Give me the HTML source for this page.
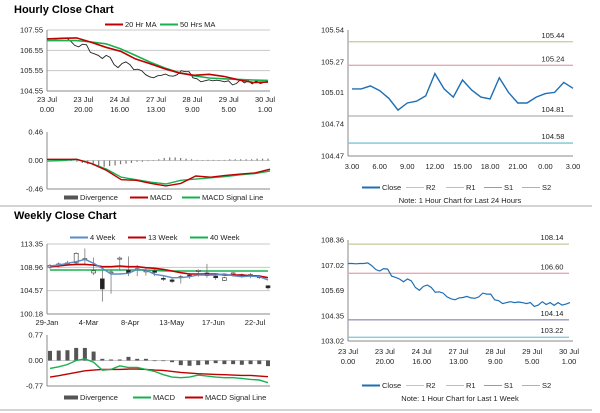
<!DOCTYPE html>
<html><head><meta charset="utf-8"><style>
body{margin:0;background:#fff;}
svg{display:block;font-family:"Liberation Sans",Arial,sans-serif;}
text{fill:#222;font-size:7.5px;}
.t{font-size:11px;font-weight:bold;fill:#000;}
</style></head><body>
<svg id="s" width="600" height="413" viewBox="0 0 600 413" xmlns="http://www.w3.org/2000/svg">
<text class="t" x="14" y="13">Hourly Close Chart</text>
<text class="t" x="14" y="219">Weekly Close Chart</text>
<line x1="0" y1="206" x2="592" y2="206" stroke="#aaa" stroke-width="1"/>
<line x1="0" y1="410" x2="592" y2="410" stroke="#aaa" stroke-width="1"/>
</svg>
<script>
// ---- data ----
const hourlyClose=[107.12,107.12,107.1,107.12,107.12,107.15,107.0,106.8,106.72,106.85,106.82,106.45,106.38,106.3,106.15,106.3,106.2,105.85,105.7,105.9,105.98,105.85,105.6,105.62,105.55,105.35,105.25,105.2,105.3,105.32,105.38,105.3,105.28,105.35,105.55,105.5,105.5,105.2,105.15,105.0,105.05,105.1,105.05,105.08,105.05,105.0,105.05,104.85,104.92,105.1,104.95,105.05,104.9,105.05,104.92,104.97,105.05];
const ma20=[107.11,107.14,107.16,106.95,106.7,106.5,106.13,105.89,105.64,105.43,105.32,105.37,105.27,105.1,104.97,104.99];
const ma50=[107.03,107.03,107.03,106.96,106.87,106.62,106.3,105.97,105.68,105.45,105.3,105.19,105.15,105.12,105.09,105.07];
const hMacd=[0.02,0.02,0.02,-0.05,-0.16,-0.31,-0.32,-0.37,-0.41,-0.37,-0.25,-0.27,-0.24,-0.22,-0.2,-0.14];
const hSignal=[-0.01,0.0,0.02,-0.05,-0.14,-0.27,-0.31,-0.35,-0.38,-0.32,-0.3,-0.28,-0.26,-0.23,-0.21,-0.17];
const hDiv=[0.01,0.01,0.0,0.0,-0.02,-0.04,-0.06,-0.08,-0.1,-0.1,-0.09,-0.08,-0.06,-0.05,-0.04,-0.02,-0.02,-0.01,0.0,0.02,0.04,0.05,0.05,0.04,0.03,0.02,0.01,0.0,0.01,0.01,0.0,0.01,0.02,0.02,0.02,0.02,0.02,0.03,0.03,0.03];
const hourTicks=["23 Jul|0.00","23 Jul|20.00","24 Jul|16.00","27 Jul|13.00","28 Jul|9.00","29 Jul|5.00","30 Jul|1.00"];
const dayClose=[105.04,105.04,105.065,105.025,104.96,104.86,104.92,104.935,104.98,105.17,105.04,104.97,105.115,105.03,104.97,104.955,105.135,105.01,104.92,104.92,104.97,105.0,105.01,105.095,105.045];
const dayTicks=["3.00","6.00","9.00","12.00","15.00","18.00","21.00","0.00","3.00"];
const dayLevels=[105.44,105.24,104.81,104.58];
const weekLevels=[108.14,106.60,104.14,103.22];
const wOpen=[109.0,109.3,109.6,109.8,110.5,107.9,106.8,108.0,110.5,108.4,108.5,108.1,108.3,106.9,106.6,107.1,107.5,108.2,107.9,107.3,106.5,107.7,107.5,107.5,107.0,105.5];
const wClose=[109.3,109.6,109.8,111.6,110.6,108.3,104.9,108.1,110.7,107.9,108.7,108.3,108.0,106.7,106.3,107.2,107.4,108.4,107.4,107.0,107.0,107.9,107.6,107.6,107.2,105.1];
const wHigh=[109.6,109.9,110.2,111.8,112.5,110.8,108.4,108.5,111.0,111.0,109.4,108.8,108.7,107.3,107.0,107.5,107.9,108.6,109.6,107.6,107.2,108.1,107.8,107.9,107.4,105.6];
const wLow=[108.6,108.9,109.3,109.6,109.5,107.5,102.5,104.0,108.5,107.3,107.3,107.4,107.3,106.4,106.0,105.9,106.8,107.2,107.0,106.6,106.4,107.2,107.0,106.9,106.8,104.8];
const wk4=[109.21,109.4,109.71,110.02,110.46,109.71,108.77,107.7,107.7,107.83,108.58,108.45,107.64,107.39,107.01,107.01,107.2,107.51,107.51,107.51,107.7,107.39,107.2,107.32,107.2,106.57];
const wk13=[109.08,109.21,109.4,109.52,109.52,109.4,109.08,109.08,109.21,109.08,109.08,108.89,108.77,108.58,108.27,107.95,107.7,107.7,107.7,107.7,107.51,107.51,107.51,107.39,107.32,107.01];
const wk40=[108.45,108.45,108.45,108.45,108.45,108.45,108.45,108.45,108.45,108.45,108.45,108.42,108.38,108.3,108.27,108.27,108.27,108.27,108.27,108.27,108.27,108.27,108.27,108.27,108.27,108.27];
const wDiv=[0.29,0.30,0.31,0.38,0.38,0.27,0.05,0.03,0.03,0.11,0.05,0.05,0.0,-0.01,-0.05,-0.14,-0.16,-0.14,-0.12,-0.08,-0.11,-0.11,-0.13,-0.11,-0.11,-0.17];
const wMacd=[-0.24,-0.19,-0.12,0,0.05,-0.05,-0.29,-0.27,-0.16,-0.21,-0.21,-0.27,-0.33,-0.43,-0.5,-0.52,-0.5,-0.44,-0.47,-0.5,-0.52,-0.52,-0.54,-0.57,-0.59,-0.67];
const wSignal=[-0.5,-0.46,-0.41,-0.36,-0.31,-0.29,-0.27,-0.27,-0.27,-0.26,-0.26,-0.27,-0.29,-0.3,-0.33,-0.36,-0.38,-0.4,-0.41,-0.42,-0.43,-0.44,-0.45,-0.45,-0.47,-0.49];
const weekTicks=["29-Jan","4-Mar","8-Apr","13-May","17-Jun","22-Jul"];

// ---- helpers ----
const S=document.getElementById('s');const NS='http://www.w3.org/2000/svg';
function el(tag,at,txt){const e=document.createElementNS(NS,tag);for(const k in at)e.setAttribute(k,at[k]);if(txt!==undefined)e.textContent=txt;S.appendChild(e);return e;}
function lin(d0,d1,r0,r1){return v=>r0+(v-d0)/(d1-d0)*(r1-r0);}
function poly(arr,x,y,col,w,name){const pts=arr.map((v,i)=>x(i).toFixed(1)+','+y(v).toFixed(1)).join(' ');const e=el('polyline',{points:pts,fill:'none',stroke:col,'stroke-width':w});

return e;}
function yAxis(ticks,y,x0,x1,grid,name){ticks.forEach(t=>{const e=el('text',{x:x0-4,y:y(t)+2.5,'text-anchor':'end'},t.toFixed(2));


if(grid){const g=el('line',{x1:x0,x2:x1,y1:y(t),y2:y(t),stroke:'#c8c8c8','stroke-width':1});

}});
const a=el('line',{x1:x0,x2:x0,y1:y(ticks[0]),y2:y(ticks[ticks.length-1]),stroke:'#888'});

}
function xAxisLine(x0,x1,yy,name){const a=el('line',{x1:x0,x2:x1,y1:yy,y2:yy,stroke:'#888'});

}
function xLabels(labels,xs,yy,name){labels.forEach((l,i)=>{const p=l.split('|');p.forEach((s,j)=>{const e=el('text',{x:xs(i),y:yy+j*10,'text-anchor':'middle'},s);

});});}
function legend(items,yy,name){items.forEach(it=>{const l=el('line',{x1:it[0],x2:it[0]+(it[3]||18),y1:yy-2.5,y2:yy-2.5,stroke:it[2],'stroke-width':it[4]||2});


const t=el('text',{x:it[0]+(it[3]||18)+2,y:yy},it[1]);

});}
const RED='#c00000',GRN='#19b050',BLU='#1f6fb4';

// ---- Panel 1: hourly ----
(function(){const x0=47,x1=270;const y=lin(104.55,107.55,91,30);
yAxis([107.55,106.55,105.55,104.55],y,x0,x1,true,'hourly-y');xAxisLine(x0,x1,91,'hourly-x-axis');
const xc=i=>x0+i*(x1-2-x0)/(hourlyClose.length-1);
poly(hourlyClose,xc,y,'#222',0.9,'hourly-close-line');
const xm=i=>x0+i*(x1-2-x0)/(ma20.length-1);
poly(ma50,xm,y,GRN,1.6,'ma50-line');poly(ma20,xm,y,RED,1.6,'ma20-line');
xLabels(hourTicks,i=>x0+i*(265-x0)/(hourTicks.length-1),102,'hourly-x-tick');
legend([[105,'20 Hr MA',RED],[160,'50 Hrs MA',GRN]],27,'hourly-legend');
// MACD
const ym=lin(-0.46,0.46,189,132);
yAxis([0.46,0,-0.46],ym,x0,x1,false,'hourly-macd-y');
const z=el('line',{x1:x0,x2:x1,y1:ym(0),y2:ym(0),stroke:'#c8c8c8'});


xAxisLine(x0,x1,189,'hourly-macd-x-axis');
const xd=i=>x0+8+i*(x1-10-x0)/(hDiv.length-1);
hDiv.forEach((v,i)=>{const r=el('rect',{x:xd(i)-0.6,y:Math.min(ym(v),ym(0)),width:1.2,height:Math.max(0.5,Math.abs(ym(v)-ym(0))),fill:'#777'});

});
const xmm=i=>x0+i*(x1-x0)/(hMacd.length-1);
poly(hSignal,xmm,ym,GRN,1.4,'hourly-macd-signal-line');poly(hMacd,xmm,ym,RED,1.4,'hourly-macd-line');
legend([[64,'Divergence','#555',14,4],[130,'MACD',RED],[182,'MACD Signal Line',GRN]],200,'hourly-macd-legend');})();

// ---- Panel 2: last 24 hours ----
(function(){const x0=348,x1=573;const y=lin(104.47,105.54,156,30);
yAxis([105.54,105.27,105.01,104.74,104.47],y,x0,x1,false,'day-y');xAxisLine(x0,x1,156,'day-x-axis');
const cols=['#c9c99b','#e8a8b0','#b0b0b0','#7ec4d6'];
dayLevels.forEach((v,i)=>{const l=el('line',{x1:x0,x2:x1,y1:y(v),y2:y(v),stroke:cols[i],'stroke-width':1.3});


const t=el('text',{x:553,y:y(v)-4,'text-anchor':'middle'},v.toFixed(2));

});
const xc=i=>x0+4+i*(x1-4-x0)/(dayClose.length-1);
poly(dayClose,xc,y,BLU,1.4,'day-close-line');
xLabels(dayTicks,i=>x0+4+i*(x1-4-x0)/(dayTicks.length-1),169,'day-x-tick');
legend([[362,'Close',BLU],[406,'R2',cols[0],18,1],[446,'R1',cols[1],18,1],[484,'S1','#9a98b8',18,1],[522,'S2',cols[3],18,1]],190,'day-legend');
const n=el('text',{x:460,y:203,'text-anchor':'middle','font-size':'6.5'},'Note: 1 Hour Chart for Last 24 Hours');

})();

// ---- Panel 3: weekly ----
(function(){const x0=47,x1=270;const y=lin(100.18,113.35,314,244);
yAxis([113.35,108.96,104.57,100.18],y,x0,x1,true,'weekly-y');xAxisLine(x0,x1,314,'weekly-x-axis');
const xw=i=>x0+3+i*(268-x0-3)/(wClose.length-1);
const w4=el('line',{});S.removeChild(w4);
poly(wk40,xw,y,GRN,1.6,'wk40-line');
wClose.forEach((c,i)=>{const o=wOpen[i];const w=el('line',{x1:xw(i),x2:xw(i),y1:y(wHigh[i]),y2:y(wLow[i]),stroke:'#666','stroke-width':0.7});


const up=c>=o;const r=el('rect',{x:xw(i)-2,y:y(Math.max(o,c)),width:4,height:Math.max(1,Math.abs(y(o)-y(c))),fill:up?'#fff':'#222',stroke:'#333','stroke-width':0.6});

});
poly(wk13,xw,y,RED,1.6,'wk13-line');poly(wk4,xw,y,'#5b8bc8',1.4,'wk4-line');
xLabels(weekTicks,i=>x0+i*(255-x0)/(weekTicks.length-1),325,'weekly-x-tick');
legend([[70,'4 Week','#5b8bc8'],[128,'13 Week',RED],[190,'40 Week',GRN]],240,'weekly-legend');
const ym=lin(-0.77,0.77,386,335);
yAxis([0.77,0,-0.77],ym,x0,x1,false,'weekly-macd-y');
xAxisLine(x0,x1,386,'weekly-macd-x-axis');
const z=el('line',{x1:x0,x2:x1,y1:ym(0),y2:ym(0),stroke:'#c8c8c8'});


wDiv.forEach((v,i)=>{const r=el('rect',{x:xw(i)-2,y:Math.min(ym(v),ym(0)),width:4,height:Math.max(0.6,Math.abs(ym(v)-ym(0))),fill:'#555'});

});
poly(wSignal,xw,ym,RED,1.4,'weekly-macd-signal-line');poly(wMacd,xw,ym,GRN,1.4,'weekly-macd-line');
legend([[64,'Divergence','#555',14,4],[133,'MACD',GRN],[185,'MACD Signal Line',RED]],400,'weekly-macd-legend');})();

// ---- Panel 4: last week hourly ----
(function(){const x0=348,x1=573;const y=lin(103.02,108.36,341,240);
yAxis([108.36,107.02,105.69,104.35,103.02],y,x0,x1,false,'week-y');xAxisLine(x0,x1,341,'week-x-axis');
const cols=['#c9c99b','#e8a8b0','#9a98b8','#7ec4d6'];
weekLevels.forEach((v,i)=>{const l=el('line',{x1:x0,x2:x1-4,y1:y(v),y2:y(v),stroke:cols[i],'stroke-width':1.3});


const t=el('text',{x:552,y:y(v)-4,'text-anchor':'middle'},v.toFixed(2));

});
const xc=i=>x0+i*(570-x0)/(hourlyClose.length-1);
poly(hourlyClose,xc,y,BLU,1.2,'week-close-line');
xLabels(hourTicks,i=>x0+i*(569-x0)/(hourTicks.length-1),354,'week-x-tick');
legend([[362,'Close',BLU],[406,'R2',cols[0],18,1],[446,'R1',cols[1],18,1],[484,'S1',cols[2],18,1],[522,'S2',cols[3],18,1]],388,'week-legend');
const n=el('text',{x:460,y:401,'text-anchor':'middle','font-size':'6.5'},'Note: 1 Hour Chart for Last 1 Week');

})();
</script>
</body></html>
